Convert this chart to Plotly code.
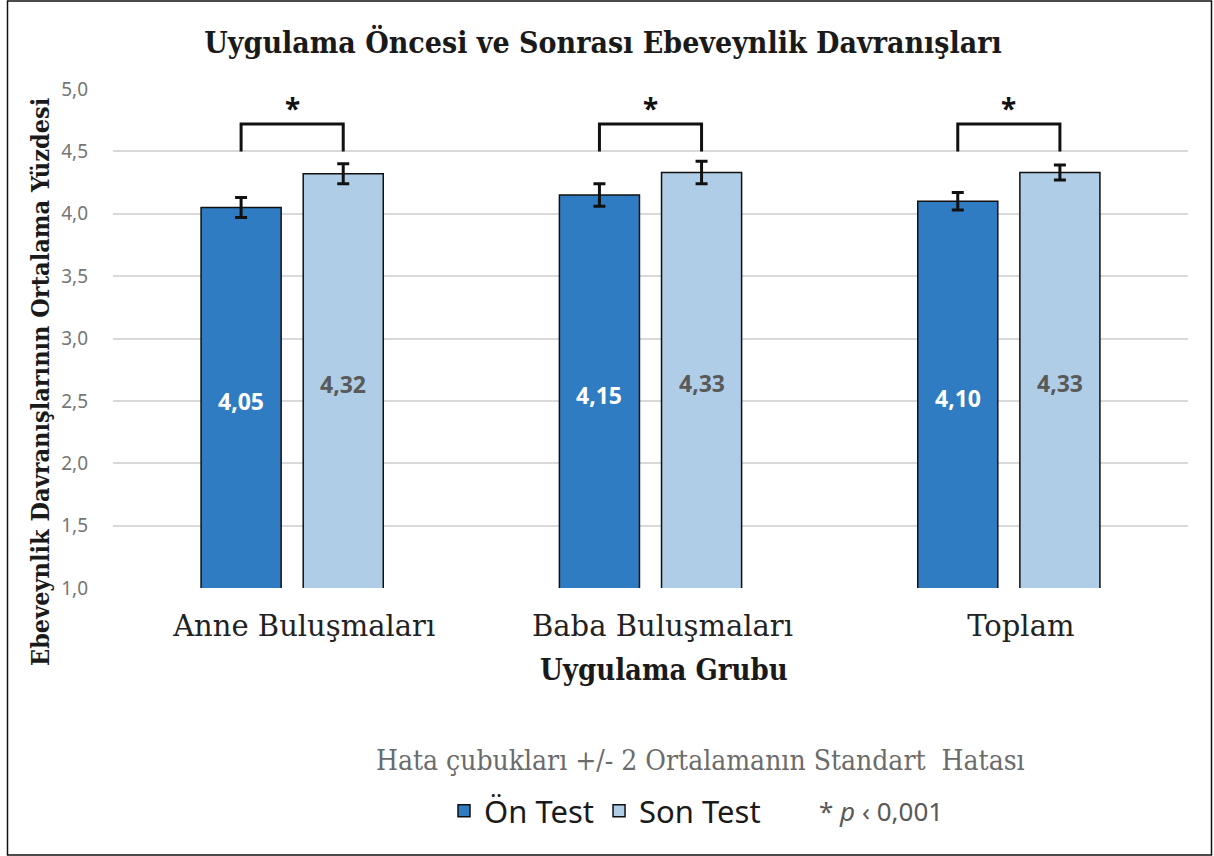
import plotly.graph_objects as go

categories = ["Anne Buluşmaları", "Baba Buluşmaları", "Toplam"]
on_test = [4.05, 4.15, 4.10]
son_test = [4.32, 4.33, 4.33]
on_err = [0.08, 0.09, 0.07]
son_err = [0.08, 0.09, 0.06]
on_labels = ["4,05", "4,15", "4,10"]
son_labels = ["4,32", "4,33", "4,33"]
y_ticks = [1.0, 1.5, 2.0, 2.5, 3.0, 3.5, 4.0, 4.5, 5.0]
y_ticktext = ["1,0", "1,5", "2,0", "2,5", "3,0", "3,5", "4,0", "4,5", "5,0"]
bracket_top = [4.72, 4.72, 4.72]
bracket_leg = [4.50, 4.50, 4.50]

C_ON = "#2F7CC2"
C_SON = "#B0CDE8"
SLAB = "DejaVu Serif Condensed"
SLAB2 = "DejaVu Serif"
SANS = "Noto Sans"

W, H = 1214, 856
L, R, T, B = 113, 26, 89, 268
PW, PH = W - L - R, H - T - B


def px(xp):
    return (xp - L) / PW


def py(yp):
    return (H - B - yp) / PH


xpos = list(range(len(categories)))
bargap = 0.43
bargroupgap = 0.216
half = (1 - bargap) / 4

fig = go.Figure()
fig.add_trace(go.Bar(
    x=xpos, y=on_test, name="Ön Test",
    marker=dict(color=C_ON, line=dict(color="#111111", width=1.5)),
    error_y=dict(type="data", array=on_err, color="#111111", thickness=3, width=6),
))
fig.add_trace(go.Bar(
    x=xpos, y=son_test, name="Son Test",
    marker=dict(color=C_SON, line=dict(color="#111111", width=1.5)),
    error_y=dict(type="data", array=son_err, color="#111111", thickness=3, width=6),
))

for i, p in enumerate(xpos):
    fig.add_annotation(
        x=p - half, y=(on_test[i] + y_ticks[0]) / 2, xref="x", yref="y",
        text=on_labels[i], showarrow=False, yshift=-3,
        font=dict(family=SANS, size=23, color="white", weight="bold"),
    )
    fig.add_annotation(
        x=p + half, y=(son_test[i] + y_ticks[0]) / 2, xref="x", yref="y",
        text=son_labels[i], showarrow=False, yshift=-3,
        font=dict(family=SANS, size=23, color="#595959", weight="bold"),
    )
    fig.add_trace(go.Scatter(
        x=[p - half, p - half, p + half, p + half],
        y=[bracket_leg[i], bracket_top[i], bracket_top[i], bracket_leg[i]],
        mode="lines", line=dict(color="#111111", width=3),
        showlegend=False, hoverinfo="skip",
    ))
    fig.add_annotation(
        x=p, y=bracket_top[i], xref="x", yref="y", text="<b>*</b>",
        showarrow=False, yanchor="bottom", yshift=-5,
        font=dict(family=SANS, size=28, color="#111111"),
    )

fig.update_layout(
    width=W, height=H,
    paper_bgcolor="white", plot_bgcolor="white",
    margin=dict(l=L, r=R, t=T, b=B),
    barmode="group", bargap=bargap, bargroupgap=bargroupgap,
    title=dict(
        text="<b>Uygulama Öncesi ve Sonrası Ebeveynlik Davranışları</b>",
        x=603 / W, xanchor="center", y=1 - 42 / H, yanchor="middle",
        font=dict(family=SLAB, size=30, color="#1a1a1a"),
    ),
    xaxis=dict(
        range=[-0.5, 2.5], tickmode="array", tickvals=xpos, ticktext=categories,
        showgrid=False, zeroline=False, showline=False, ticks="",
        tickfont=dict(family=SLAB2, size=29, color="#222222"),
        ticklabelstandoff=18, ticklabelshift=12,
    ),
    yaxis=dict(
        range=[1.0, 5.0], tickmode="array", tickvals=y_ticks, ticktext=y_ticktext,
        showgrid=True, gridcolor="#D9D9D9", gridwidth=1.5,
        zeroline=False, showline=False, ticks="",
        tickfont=dict(family=SANS, size=19, color="#767676"),
        ticklabelstandoff=24,
    ),
    legend=dict(
        orientation="h", x=px(444), xanchor="left", y=py(811), yanchor="middle",
        font=dict(family=SANS, size=31, color="#1a1a1a"),
        itemclick=False, tracegroupgap=0,
    ),
    showlegend=True,
)

fig.add_annotation(
    x=px(40), y=py(382), xref="paper", yref="paper",
    text="<b>Ebeveynlik Davranışlarının Ortalama Yüzdesi</b>", textangle=-90,
    showarrow=False, xanchor="center", yanchor="middle",
    font=dict(family=SLAB, size=25, color="#1a1a1a"),
)
fig.add_annotation(
    x=px(664), y=py(670), xref="paper", yref="paper",
    text="<b>Uygulama Grubu</b>", showarrow=False,
    xanchor="center", yanchor="middle",
    font=dict(family=SLAB, size=29, color="#1a1a1a"),
)
fig.add_annotation(
    x=px(700), y=py(760), xref="paper", yref="paper",
    text="Hata çubukları +/- 2 Ortalamanın Standart  Hatası", showarrow=False,
    xanchor="center", yanchor="middle",
    font=dict(family=SLAB, size=28, color="#6b6b6b"),
)
fig.add_annotation(
    x=px(817), y=py(811), xref="paper", yref="paper",
    text="* <i>p</i> ‹ 0,001", showarrow=False,
    xanchor="left", yanchor="middle",
    font=dict(family=SANS, size=26, color="#595959"),
)

fig.add_shape(
    type="rect", xref="paper", yref="paper",
    x0=px(7.5), x1=px(1211.5), y0=py(855), y1=py(1),
    line=dict(color="#111111", width=1.5), fillcolor="rgba(0,0,0,0)",
    layer="below",
)

fig.write_html("out.html", config={"displayModeBar": False},
               post_script="document.body.style.margin='0';")
